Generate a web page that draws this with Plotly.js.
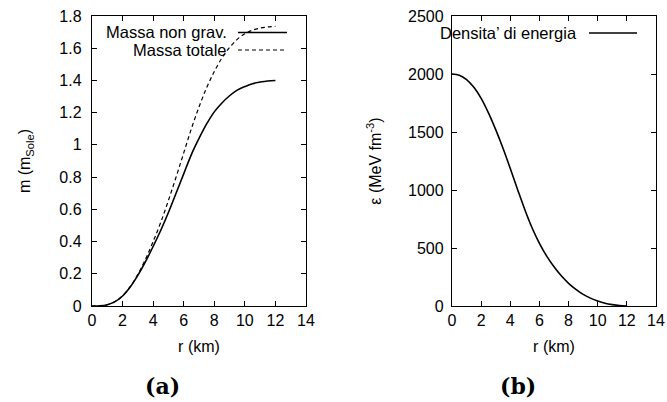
<!DOCTYPE html>
<html>
<head>
<meta charset="utf-8">
<script src="https://cdn.plot.ly/plotly-3.0.1.min.js"></script>
<style>html,body{margin:0;padding:0;background:#fff;}#chart{width:667px;height:402px;}</style>
</head>
<body>
<div id="chart"></div>
<script>
// ---- data ----
const rMass = [0, 0.5, 1, 1.5, 2, 2.5, 3, 3.5, 4, 4.5, 5, 5.5, 6, 6.5, 7, 7.5, 8, 8.5, 9, 9.5, 10, 10.5, 11, 11.5, 12];
const massNonGrav = [0, 0.001, 0.008, 0.027, 0.062, 0.118, 0.19, 0.275, 0.37, 0.47, 0.58, 0.70, 0.82, 0.94, 1.04, 1.13, 1.205, 1.26, 1.305, 1.34, 1.362, 1.38, 1.39, 1.397, 1.40];
const massTotale  = [0, 0.001, 0.008, 0.027, 0.063, 0.12, 0.197, 0.29, 0.40, 0.52, 0.655, 0.80, 0.95, 1.10, 1.235, 1.355, 1.455, 1.54, 1.605, 1.655, 1.69, 1.712, 1.725, 1.732, 1.735];
const rEps = [0, 0.5, 1, 1.5, 2, 2.5, 3, 3.5, 4, 4.5, 5, 5.5, 6, 6.5, 7, 7.5, 8, 8.5, 9, 9.5, 10, 10.5, 11, 11.5, 12];
const energyDensity = [2000, 1990, 1952, 1885, 1790, 1665, 1520, 1360, 1185, 1005, 830, 672, 540, 430, 338, 260, 195, 143, 100, 68, 43, 24, 12, 4, 0];
const xTicks = [0, 2, 4, 6, 8, 10, 12, 14];
const yTicksMass = [0, 0.2, 0.4, 0.6, 0.8, 1, 1.2, 1.4, 1.6, 1.8];
const yTicksEps = [0, 500, 1000, 1500, 2000, 2500];
const seriesNames = ['Massa non grav.', 'Massa totale', 'Densita\u2019 di energia'];
const panelLabels = ['(a)', '(b)'];
const xTitle = 'r (km)';
const yTitleMass = 'm (m<sub>Sole</sub>)';
const yTitleEps = '\u03b5 (MeV fm<sup>-3</sup>)';

const W = 667, H = 402;
const px = v => v / W, py = v => 1 - v / H;
const FONT = 'Liberation Sans, Arial, Helvetica, sans-serif';

const lineStyle = {color: '#000', width: 1.6, shape: 'spline', smoothing: 1};

const traces = [
  {x: rMass, y: massNonGrav, name: seriesNames[0], mode: 'lines', line: Object.assign({}, lineStyle), xaxis: 'x', yaxis: 'y'},
  {x: rMass, y: massTotale, name: seriesNames[1], mode: 'lines', line: Object.assign({}, lineStyle, {dash: '4px,3px', width: 1.2}), xaxis: 'x', yaxis: 'y'},
  {x: rEps, y: energyDensity, name: seriesNames[2], mode: 'lines', line: Object.assign({}, lineStyle), xaxis: 'x2', yaxis: 'y2'}
];

function axisBase(extra) {
  return Object.assign({
    showline: true, linecolor: '#000', linewidth: 1.2, mirror: 'ticks',
    ticks: 'inside', ticklen: 5, tickwidth: 1, tickcolor: '#000',
    showgrid: false, zeroline: false, automargin: false,
    tickfont: {family: FONT, size: 16, color: '#000'}
  }, extra);
}

const yDom = [py(306), py(16)];
const titleFont = {family: FONT, size: 16, color: '#000'};
const legendFont = {family: FONT, size: 16.5, color: '#000'};

const layout = {
  width: W, height: H,
  margin: {l: 0, r: 0, t: 0, b: 0},
  paper_bgcolor: '#fff', plot_bgcolor: '#fff',
  showlegend: false,
  xaxis: axisBase({domain: [px(92), px(306)], range: [0, 14], tickvals: xTicks, anchor: 'y',
    title: {text: xTitle, font: titleFont, standoff: 12}}),
  yaxis: axisBase({domain: yDom, range: [0, 1.8], tickvals: yTicksMass, anchor: 'x', ticklabelstandoff: 6,
    title: {text: yTitleMass, font: titleFont, standoff: 24}}),
  xaxis2: axisBase({domain: [px(452), px(656)], range: [0, 14], tickvals: xTicks, anchor: 'y2',
    title: {text: xTitle, font: titleFont, standoff: 12}}),
  yaxis2: axisBase({domain: yDom, range: [0, 2500], tickvals: yTicksEps, anchor: 'x2', ticklabelstandoff: 4,
    title: {text: yTitleEps, font: titleFont, standoff: 22}}),
  annotations: [
    {text: seriesNames[0], xref: 'paper', yref: 'paper', x: px(229), y: py(32), xanchor: 'right', yanchor: 'middle', showarrow: false, font: legendFont},
    {text: seriesNames[1], xref: 'paper', yref: 'paper', x: px(229), y: py(50), xanchor: 'right', yanchor: 'middle', showarrow: false, font: legendFont},
    {text: seriesNames[2], xref: 'paper', yref: 'paper', x: px(579), y: py(33), xanchor: 'right', yanchor: 'middle', showarrow: false, font: legendFont},
    {text: '<b>' + panelLabels[0] + '</b>', xref: 'paper', yref: 'paper', x: px(162), y: py(386), xanchor: 'center', yanchor: 'middle', showarrow: false, font: {family: 'DejaVu Serif, serif', size: 22, color: '#000'}},
    {text: '<b>' + panelLabels[1] + '</b>', xref: 'paper', yref: 'paper', x: px(518), y: py(386), xanchor: 'center', yanchor: 'middle', showarrow: false, font: {family: 'DejaVu Serif, serif', size: 22, color: '#000'}}
  ],
  shapes: [
    {type: 'line', xref: 'paper', yref: 'paper', x0: px(238), x1: px(287), y0: py(32.5), y1: py(32.5), line: {color: '#000', width: 1.6}},
    {type: 'line', xref: 'paper', yref: 'paper', x0: px(238), x1: px(287), y0: py(50), y1: py(50), line: {color: '#000', width: 1.2, dash: '4px,3px'}},
    {type: 'line', xref: 'paper', yref: 'paper', x0: px(589), x1: px(637), y0: py(33), y1: py(33), line: {color: '#000', width: 1.6}}
  ]
};

Plotly.newPlot('chart', traces, layout, {staticPlot: true, displayModeBar: false});
</script>
</body>
</html>
